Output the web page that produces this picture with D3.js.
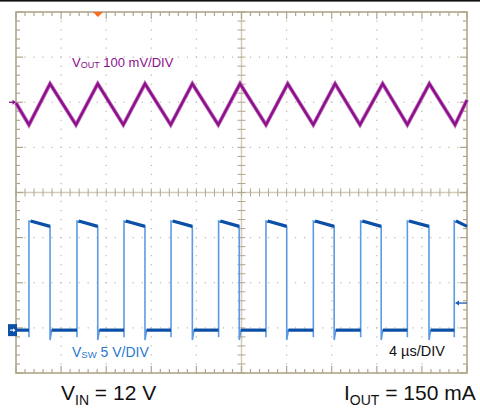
<!DOCTYPE html>
<html><head><meta charset="utf-8">
<script src="https://cdn.jsdelivr.net/npm/d3@7"></script>
<style>
html,body{margin:0;padding:0;background:#fff;}
svg{display:block;font-family:"Liberation Sans",Arial,Helvetica,sans-serif;}
</style></head>
<body>
<svg id="c" width="480" height="410"></svg>
<script>
// ---- data (time in µs, Vout in mV around channel 1 marker, Vsw in V) ----
const timeDivs = 10, voltDivs = 8, usPerDiv = 4;
const voutTimes = [0, 1.15, 3.02, 5.32, 7.25, 9.52, 11.44, 13.72, 15.64, 17.94, 19.87, 22.17, 24.10, 26.37, 28.30, 30.51, 32.52, 34.71, 36.66, 38.94, 40];
const voutMv    = [-2, -50, 41, -50, 41, -50, 41, -50, 41, -50, 41, -50, 41, -50, 41, -50, 41, -50, 41, -50, 5];
const swRise = [1.15, 5.41, 9.58, 13.75, 17.97, 22.17, 26.37, 30.57, 34.71, 38.87];
const swFall = [3.02, 7.25, 11.44, 15.64, 19.80, 24.01, 28.22, 32.39, 36.63];
const swLevels = {low: 0, highStart: 12.1, highEnd: 11.5, riseDip: -0.8, fallSpike: -1.1};
const ch1Offset = 2.0, ch1Scale = 100;   // div, mV/div
const ch2Offset = -3.05, ch2Scale = 5;   // div, V/div
const triggerTime = 7.27, triggerLevel = 3.0;
const labels = {vout: ["V", "OUT", " 100 mV/DIV"], vsw: ["V", "SW", " 5 V/DIV"], time: "4 µs/DIV",
  vin: ["V", "IN", " = 12 V"], iout: ["I", "OUT", " = 150 mA"]};

// ---- layout ----
const svg = d3.select("#c");
const L = 16, R = 467, T = 12, B = 373;
const x = d3.scaleLinear().domain([0, timeDivs * usPerDiv]).range([L, R]);
const yd = d3.scaleLinear().domain([-voltDivs / 2, voltDivs / 2]).range([B, T]);
const y1 = mv => yd(ch1Offset + mv / ch1Scale);
const y2 = v => yd(ch2Offset + v / ch2Scale);

const frameCol = "#b0a68b", dotCol = "#bdb6a4";

// top black bar
svg.append("rect").attr("x", 0).attr("y", 0).attr("width", 480).attr("height", 1.6).attr("fill", "#111");

const g = svg.append("g");
// dotted grid
const xMaj = d3.range(1, timeDivs).map(i => i * usPerDiv);
const yMaj = d3.range(-voltDivs / 2 + 1, voltDivs / 2);
const minorX = d3.range(0, timeDivs * 5 + 1).map(i => i * usPerDiv / 5);
const minorY = d3.range(0, voltDivs * 5 + 1).map(i => -voltDivs / 2 + i / 5);
xMaj.filter(t => t !== 20).forEach(t => {
  minorY.forEach(v => g.append("rect").attr("x", x(t) - 0.6).attr("y", yd(v) - 0.6).attr("width", 1.2).attr("height", 1.2).attr("fill", dotCol));
});
yMaj.filter(v => v !== 0).forEach(v => {
  minorX.forEach(t => g.append("rect").attr("x", x(t) - 0.6).attr("y", yd(v) - 0.6).attr("width", 1.2).attr("height", 1.2).attr("fill", dotCol));
});
// center cross
g.append("line").attr("x1", x(20)).attr("x2", x(20)).attr("y1", T).attr("y2", B).attr("stroke", "#d4ccb8").attr("stroke-width", 1.5);
g.append("line").attr("x1", L).attr("x2", R).attr("y1", yd(0)).attr("y2", yd(0)).attr("stroke", "#d4ccb8").attr("stroke-width", 1.5);
minorY.forEach(v => g.append("line").attr("x1", x(20) - 4).attr("x2", x(20) + 4).attr("y1", yd(v)).attr("y2", yd(v)).attr("stroke", frameCol).attr("stroke-width", 1));
minorX.forEach(t => g.append("line").attr("x1", x(t)).attr("x2", x(t)).attr("y1", yd(0) - 4).attr("y2", yd(0) + 4).attr("stroke", frameCol).attr("stroke-width", 1));
// border ticks
minorX.forEach((t, i) => {
  const len = i % 5 === 0 ? 7 : 4;
  g.append("line").attr("x1", x(t)).attr("x2", x(t)).attr("y1", T).attr("y2", T + len).attr("stroke", frameCol).attr("stroke-width", 1.2);
  g.append("line").attr("x1", x(t)).attr("x2", x(t)).attr("y1", B).attr("y2", B - len).attr("stroke", frameCol).attr("stroke-width", 1.2);
});
minorY.forEach((v, i) => {
  const len = i % 5 === 0 ? 7 : 4;
  g.append("line").attr("x1", L).attr("x2", L + len).attr("y1", yd(v)).attr("y2", yd(v)).attr("stroke", frameCol).attr("stroke-width", 1.2);
  g.append("line").attr("x1", R).attr("x2", R - len).attr("y1", yd(v)).attr("y2", yd(v)).attr("stroke", frameCol).attr("stroke-width", 1.2);
});
g.append("rect").attr("x", L).attr("y", T).attr("width", R - L).attr("height", B - T).attr("fill", "none").attr("stroke", frameCol).attr("stroke-width", 1.6);

// ---- Vout trace ----
const voutData = voutTimes.map((t, i) => [t, voutMv[i]]);
const lineV = d3.line().x(d => x(d[0])).y(d => y1(d[1]));
svg.append("path").datum(voutData).attr("d", lineV).attr("fill", "none").attr("stroke", "#c27ac0").attr("stroke-width", 4).attr("stroke-linejoin", "miter");
svg.append("path").datum(voutData).attr("d", lineV).attr("fill", "none").attr("stroke", "#8d0f8c").attr("stroke-width", 2.4).attr("stroke-linejoin", "miter");

// ---- Vsw trace ----
const swPts = [[0, swLevels.low]];
const flatsLow = [], flatsHigh = [];
let lowStart = 0;
swRise.forEach((tr, i) => {
  flatsLow.push([[lowStart, swLevels.low], [tr, swLevels.low]]);
  swPts.push([tr, swLevels.low], [tr, swLevels.riseDip], [tr, swLevels.highStart]);
  const tf = i < swFall.length ? swFall[i] : 40;
  flatsHigh.push([[tr + 0.15, swLevels.highStart], [tf, swLevels.highEnd]]);
  swPts.push([tf, swLevels.highEnd]);
  if (i < swFall.length) {
    swPts.push([tf, swLevels.fallSpike], [tf + 0.15, swLevels.low]);
    lowStart = tf + 0.15;
  }
});
const lineS = d3.line().x(d => x(d[0])).y(d => y2(d[1]));
svg.append("path").datum(swPts).attr("d", lineS).attr("fill", "none").attr("stroke", "#5b9be3").attr("stroke-width", 1.6);
flatsLow.concat(flatsHigh).forEach(seg => {
  svg.append("path").datum(seg).attr("d", lineS).attr("fill", "none").attr("stroke", "#0c4fa6").attr("stroke-width", 3.2);
});

// ---- markers ----
const m1y = yd(ch1Offset);
svg.append("line").attr("x1", 9).attr("x2", 15).attr("y1", m1y).attr("y2", m1y).attr("stroke", "#8d0f8c").attr("stroke-width", 1.3);
svg.append("path").attr("d", `M16,${m1y} l-3.5,-2.5 v5 z`).attr("fill", "#8d0f8c");
const m2y = yd(ch2Offset);
svg.append("rect").attr("x", 8).attr("y", m2y - 6).attr("width", 9).attr("height", 12).attr("fill", "#0c4fa6");
svg.append("line").attr("x1", 10).attr("x2", 14).attr("y1", m2y).attr("y2", m2y).attr("stroke", "#fff").attr("stroke-width", 1.2);
svg.append("path").attr("d", `M15.5,${m2y} l-2.5,-2 v4 z`).attr("fill", "#fff");
const tly = y2(triggerLevel);
svg.append("line").attr("x1", 457).attr("x2", 467).attr("y1", tly).attr("y2", tly).attr("stroke", "#1a5cb5").attr("stroke-width", 1.3);
svg.append("path").attr("d", `M455,${tly} l4,-2.5 v5 z`).attr("fill", "#1a5cb5");
const ttx = x(triggerTime);
svg.append("path").attr("d", `M${ttx - 5},${T} h10 l-5,5 z`).attr("fill", "#ff6a1c");

// ---- labels ----
function sublabel(parts, px, py, size, subSize, subDy, color) {
  const t = svg.append("text").attr("x", px).attr("y", py).attr("fill", color).attr("font-size", size);
  t.append("tspan").text(parts[0]);
  t.append("tspan").attr("font-size", subSize).attr("dy", subDy).text(parts[1]);
  t.append("tspan").attr("dy", -subDy).text(parts[2]);
  return t;
}
sublabel(labels.vout, 72, 67, 13, 9, 0.5, "#8d0f8c");
sublabel(labels.vsw, 72, 357, 14, 9.5, 0.5, "#2a78cc");
svg.append("text").attr("x", 389).attr("y", 356).attr("font-size", 14.5).attr("fill", "#111").text(labels.time);
sublabel(labels.vin, 61, 400, 21, 14, 5, "#111");
sublabel(labels.iout, 344, 400, 21, 14, 5, "#111");
</script>
</body></html>
